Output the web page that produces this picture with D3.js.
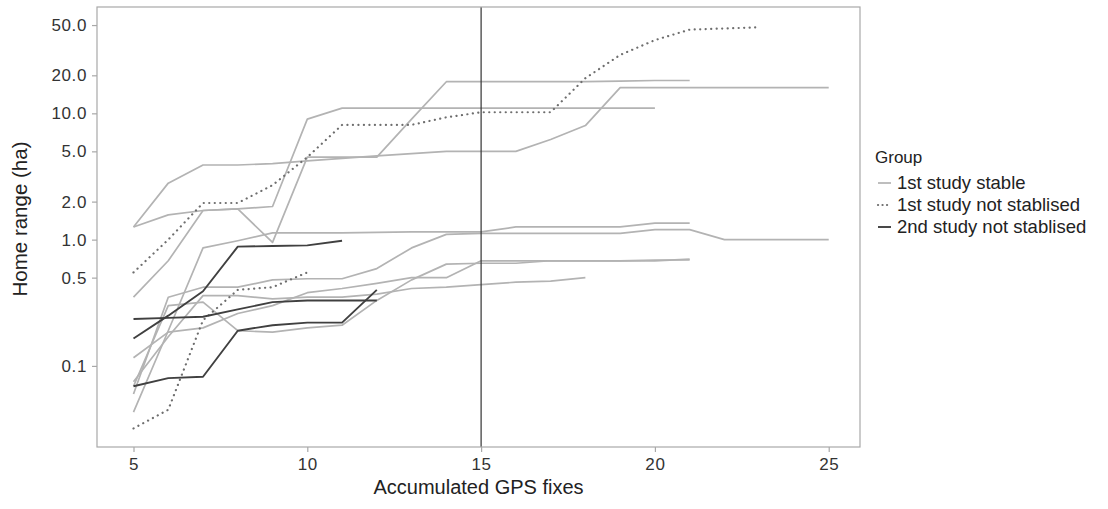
<!DOCTYPE html>
<meta charset="utf-8">
<script src="https://d3js.org/d3.v7.min.js"></script>
<style>
  body { margin: 0; background: #fff; }
  text { font-family: "Liberation Sans", Arial, sans-serif; }
</style>
<div id="my_dataviz"></div>
<script>

// x positions: accumulated GPS fixes, series values start at 5 fixes
var fixes = d3.range(5, 26);

// 1st study stable
var stableA = [1.26, 2.8, 3.9, 3.9, 4.0, 4.2, 4.4, 4.6, 4.8, 5.0, 5.0, 5.0, 6.2, 8.0, 16, 16, 16, 16, 16, 16, 16];
var stableB = [1.26, 1.57, 1.7, 1.75, 1.83, 9.0, 11, 11, 11, 11, 11, 11, 11, 11, 11, 11];
var stableC = [0.35, 0.68, 1.7, 1.75, 0.95, 4.5, 4.5, 4.5, 9.0, 17.8, 17.8, 17.8, 17.8, 17.8, 18, 18.2, 18.2];
var stableD = [0.043, 0.19, 0.86, 0.98, 1.13, 1.13, 1.13, 1.14, 1.15, 1.15, 1.15, 1.26, 1.26, 1.26, 1.26, 1.35, 1.35];
var stableE = [0.06, 0.35, 0.42, 0.42, 0.48, 0.49, 0.49, 0.59, 0.86, 1.1, 1.12, 1.12, 1.12, 1.12, 1.12, 1.2, 1.2, 1.0, 1.0, 1.0, 1.0];
var stableF = [0.116, 0.185, 0.2, 0.26, 0.3, 0.38, 0.41, 0.45, 0.5, 0.5, 0.68, 0.68, 0.68, 0.68, 0.68, 0.68, 0.7];
var stableG = [0.069, 0.3, 0.32, 0.19, 0.185, 0.2, 0.21, 0.33, 0.48, 0.64, 0.65, 0.65, 0.68, 0.68, 0.68, 0.69, 0.69];
var stableH = [0.075, 0.17, 0.36, 0.36, 0.34, 0.35, 0.35, 0.37, 0.41, 0.42, 0.44, 0.46, 0.47, 0.5];

// 1st study not stablised
var firstNotA = [0.55, 1.0, 1.95, 1.95, 2.7, 4.5, 8.1, 8.1, 8.1, 9.3, 10.2, 10.2, 10.2, 19, 29, 38, 46, 47, 48];
var firstNotB = [0.032, 0.045, 0.23, 0.40, 0.42, 0.55];

// 2nd study not stablised
var secondNotA = [0.235, 0.24, 0.245, 0.28, 0.32, 0.33, 0.33, 0.33];
var secondNotB = [0.165, 0.25, 0.39, 0.88, 0.89, 0.9, 0.98];
var secondNotC = [0.069, 0.080, 0.082, 0.19, 0.21, 0.22, 0.22, 0.40];

var groups = ["1st study stable", "1st study not stablised", "2nd study not stablised"];
var xTicks = [5, 10, 15, 20, 25];
var yTicks = [0.1, 0.5, 1, 2, 5, 10, 20, 50];
var markFix = 15;

var series = [
  {group: 0, values: stableA}, {group: 0, values: stableB}, {group: 0, values: stableC},
  {group: 0, values: stableD}, {group: 0, values: stableE}, {group: 0, values: stableF},
  {group: 0, values: stableG}, {group: 0, values: stableH},
  {group: 1, values: firstNotA}, {group: 1, values: firstNotB},
  {group: 2, values: secondNotA}, {group: 2, values: secondNotB}, {group: 2, values: secondNotC}
];

var styles = [
  {stroke: "#b3b3b3", width: 1.7, dash: null, cap: "butt"},
  {stroke: "#6e6e6e", width: 2.2, dash: "0.1,5.4", cap: "round"},
  {stroke: "#404040", width: 1.9, dash: null, cap: "butt"}
];

var margin = {top: 7, right: 248, bottom: 62, left: 97},
    width = 1108 - margin.left - margin.right,
    height = 509 - margin.top - margin.bottom;

var svg = d3.select("#my_dataviz")
  .append("svg")
    .attr("width", 1108)
    .attr("height", 509)
  .append("g")
    .attr("transform", "translate(" + margin.left + "," + margin.top + ")");

var x = d3.scaleLinear()
  .domain([3.95, 25.9])
  .range([0, width]);

var y = d3.scaleLog()
  .domain([0.0228, 69.5])
  .range([height, 0]);

// panel
svg.append("rect")
  .attr("width", width)
  .attr("height", height)
  .attr("fill", "#fff");

var line = d3.line()
  .x(function(d, i) { return x(fixes[i]); })
  .y(function(d) { return y(d); });

svg.append("g")
  .selectAll("path")
  .data(series)
  .enter()
  .append("path")
    .attr("d", function(d) { return line(d.values); })
    .attr("fill", "none")
    .attr("stroke", function(d) { return styles[d.group].stroke; })
    .attr("stroke-width", function(d) { return styles[d.group].width; })
    .attr("stroke-dasharray", function(d) { return styles[d.group].dash; })
    .attr("stroke-linecap", function(d) { return styles[d.group].cap; })
    .attr("stroke-linejoin", "round");

// vertical reference line
svg.append("line")
  .attr("x1", x(markFix)).attr("x2", x(markFix))
  .attr("y1", 0).attr("y2", height)
  .attr("stroke", "#333")
  .attr("stroke-width", 1.2);

// border
svg.append("rect")
  .attr("width", width)
  .attr("height", height)
  .attr("fill", "none")
  .attr("stroke", "#a8a8a8")
  .attr("stroke-width", 1.2);

// axes
var xAxis = svg.append("g")
  .attr("transform", "translate(0," + height + ")")
  .call(d3.axisBottom(x).tickValues(xTicks).tickSize(5).tickPadding(6));
var yAxis = svg.append("g")
  .call(d3.axisLeft(y).tickValues(yTicks).tickFormat(d3.format(".1f")).tickSize(5).tickPadding(5));

[xAxis, yAxis].forEach(function(a) {
  a.select(".domain").remove();
  a.selectAll(".tick line").attr("stroke", "#a8a8a8").attr("stroke-width", 1.2);
  a.selectAll(".tick text")
    .attr("fill", "#333")
    .style("font-size", "17px")
    .style("letter-spacing", "0.6px");
});

// axis titles
svg.append("text")
  .attr("x", width / 2)
  .attr("y", height + 47)
  .attr("text-anchor", "middle")
  .attr("fill", "#222")
  .style("font-size", "20px")
  .text("Accumulated GPS fixes");

svg.append("text")
  .attr("transform", "rotate(-90)")
  .attr("x", -212)
  .attr("y", -70)
  .attr("text-anchor", "middle")
  .attr("fill", "#222")
  .style("font-size", "20.5px")
  .text("Home range (ha)");

// legend
var legend = svg.append("g")
  .attr("transform", "translate(" + (width + 15) + ",0)");

legend.append("text")
  .attr("x", 0)
  .attr("y", 156)
  .attr("fill", "#222")
  .style("font-size", "17px")
  .text("Group");

var items = legend.selectAll("g.item")
  .data(groups)
  .enter()
  .append("g")
    .attr("class", "item")
    .attr("transform", function(d, i) { return "translate(0," + (176 + i * 22) + ")"; });

items.append("line")
  .attr("x1", 3).attr("x2", 16)
  .attr("stroke", function(d, i) { return styles[i].stroke; })
  .attr("stroke-width", function(d, i) { return styles[i].width; })
  .attr("stroke-dasharray", function(d, i) { return i == 1 ? "0.1,4.4" : null; })
  .attr("stroke-linecap", function(d, i) { return styles[i].cap; });

items.append("text")
  .attr("x", 22)
  .attr("y", 6)
  .attr("fill", "#222")
  .style("font-size", "18.5px")
  .text(function(d) { return d; });

</script>
